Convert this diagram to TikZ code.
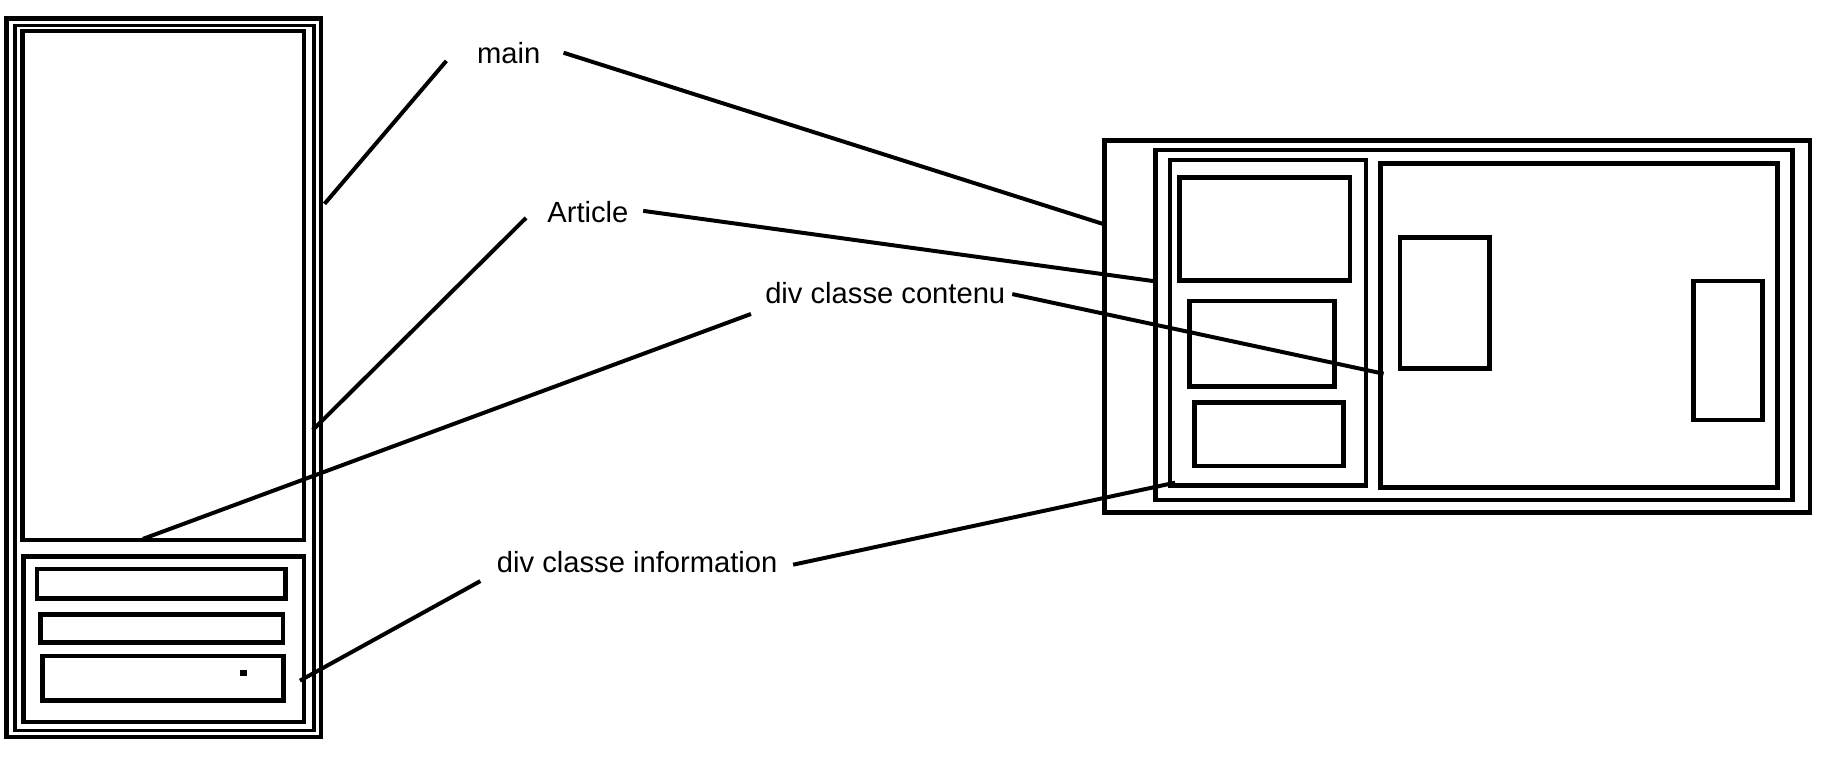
\documentclass[tikz,border=0pt]{standalone}
\usepackage{fontspec}
\setmainfont{Liberation Sans}
\begin{document}
\begin{tikzpicture}[x=1pt,y=-1pt,
  boxline/.style={draw=black,line width=4pt},
  thinline/.style={draw=black,line width=2.6pt},
  conn/.style={draw=black,line width=3.4pt},
  lbl/.style={anchor=base west,inner sep=0pt,font=\fontsize{24.9}{30}\selectfont}]
\useasboundingbox (0,0) rectangle (1568,658);
% ---------- left (narrow) layout ----------
\draw[boxline] (5.4,16) rectangle (274,629);
\draw[thinline] (12.8,21.5) rectangle (268,623.5);
\draw[boxline] (19.4,26.5) rectangle (259.5,461);
\draw[boxline] (20.2,475) rectangle (259.5,616.3);
\draw[boxline] (31.6,485.6) rectangle (243.5,510.9);
\draw[boxline] (34.7,524.8) rectangle (241.5,548.4);
\draw[boxline] (36.4,560) rectangle (242,598);
\fill (205,572) rectangle (211,577);
% ---------- right (wide) layout ----------
\draw[boxline] (943,120) rectangle (1545,437.6);
\draw[boxline] (986.4,128) rectangle (1530,426.8);
\draw[boxline] (998.7,136.5) rectangle (1166,414.5);
\draw[boxline] (1178.4,139.4) rectangle (1517,416.2);
\draw[boxline] (1007,151.3) rectangle (1152.3,239.5);
\draw[boxline] (1015.3,256.9) rectangle (1139,330);
\draw[boxline] (1019.4,343.4) rectangle (1146.6,397.7);
\draw[boxline] (1194.9,202.5) rectangle (1271.3,314.4);
\draw[boxline] (1445.5,239.8) rectangle (1504.5,358.5);
% ---------- labels ----------
\node[lbl] (main) at (407,54) {main};
\node[lbl] (article) at (467,190) {Article};
\node[lbl] (contenu) at (653,259) {div classe contenu};
\node[lbl] (info) at (424,489) {div classe information};
% ---------- connector end points ----------
\coordinate (mainL) at (381,52);
\coordinate (mainR) at (481,45);
\coordinate (artL) at (449,186);
\coordinate (artR) at (549,180);
\coordinate (conL) at (641,268);
\coordinate (conR) at (864,251);
\coordinate (infL) at (410,496);
\coordinate (infR) at (677,482);
\coordinate (mainA) at (277,174);
\coordinate (mainB) at (941,191);
\coordinate (artA) at (267,367);
\coordinate (artB) at (985,240);
\coordinate (conA) at (122,460);
\coordinate (conB) at (1181,319);
\coordinate (infA) at (256,581);
\coordinate (infB) at (1003,412);
% ---------- connectors ----------
\draw[conn] (mainL) -- (mainA);
\draw[conn] (mainR) -- (mainB);
\draw[conn] (artL) -- (artA);
\draw[conn] (artR) -- (artB);
\draw[conn] (conL) -- (conA);
\draw[conn] (conR) -- (conB);
\draw[conn] (infL) -- (infA);
\draw[conn] (infR) -- (infB);
\end{tikzpicture}
\end{document}
